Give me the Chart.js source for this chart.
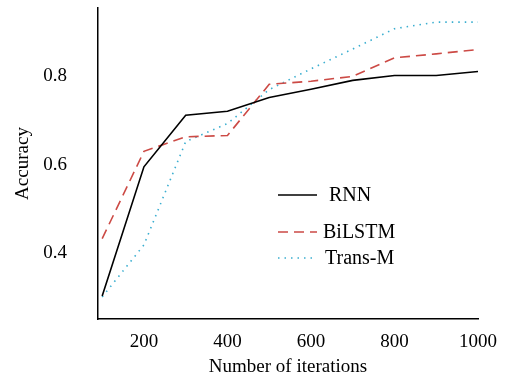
<!DOCTYPE html>
<html>
<head>
<meta charset="utf-8">
<script src="https://cdn.jsdelivr.net/npm/chart.js@4"></script>
<style>
  html, body { margin: 0; padding: 0; background: #fff; }
  #wrap { width: 519px; height: 382px; }
</style>
</head>
<body>
<div id="wrap"><canvas id="accuracy_canvas" width="519" height="382"></canvas></div>
<script>
const iterations = [100, 200, 300, 400, 500, 600, 700, 800, 900, 1000];
const rnn_accuracy = [0.302, 0.595, 0.712, 0.721, 0.752, 0.771, 0.791, 0.802, 0.802, 0.811];
const bilstm_accuracy = [0.432, 0.630, 0.663, 0.666, 0.782, 0.789, 0.800, 0.842, 0.851, 0.861];
const transm_accuracy = [0.300, 0.418, 0.652, 0.693, 0.770, 0.817, 0.862, 0.908, 0.923, 0.923];
const x_ticks = [200, 400, 600, 800, 1000];
const y_ticks = [0.4, 0.6, 0.8];

const serif = "'Liberation Serif', 'Times New Roman', serif";

// legend drawn inside the plot area, like the original figure
const inside_legend = {
    id: 'inside_legend',
    afterDraw(chart) {
        const ctx = chart.ctx;
        const rows = [
            {x0: 278, x1: 317, y: 195, tx: 329},
            {x0: 278, x1: 317, y: 232, tx: 323},
            {x0: 278, x1: 317, y: 258, tx: 325}
        ];
        chart.data.datasets.forEach(function (ds, i) {
            const r = rows[i];
            ctx.save();
            ctx.strokeStyle = ds.borderColor;
            ctx.lineWidth = ds.borderWidth;
            ctx.setLineDash(ds.borderDash || []);
            ctx.beginPath();
            ctx.moveTo(r.x0, r.y);
            ctx.lineTo(r.x1, r.y);
            ctx.stroke();
            ctx.setLineDash([]);
            ctx.fillStyle = '#000';
            ctx.font = '20px ' + serif;
            ctx.textBaseline = 'middle';
            ctx.fillText(ds.label, r.tx, r.y + 1);
            ctx.restore();
        });
    }
};

const config = {
    type: 'line',
    data: {
        datasets: [
            {
                label: 'RNN',
                data: iterations.map((x, i) => ({x: x, y: rnn_accuracy[i]})),
                borderColor: '#000000',
                borderWidth: 1.6,
                pointRadius: 0,
                tension: 0
            },
            {
                label: 'BiLSTM',
                data: iterations.map((x, i) => ({x: x, y: bilstm_accuracy[i]})),
                borderColor: '#cc4a45',
                borderWidth: 1.6,
                borderDash: [10, 6],
                pointRadius: 0,
                tension: 0
            },
            {
                label: 'Trans-M',
                data: iterations.map((x, i) => ({x: x, y: transm_accuracy[i]})),
                borderColor: '#3aaed0',
                borderWidth: 1.6,
                borderDash: [1.5, 5],
                pointRadius: 0,
                tension: 0
            }
        ]
    },
    options: {
        responsive: false,
        animation: false,
        layout: {padding: {top: 8, right: 41, left: 0, bottom: 0}},
        plugins: {
            legend: {display: false},
            tooltip: {enabled: false}
        },
        scales: {
            x: {
                type: 'linear',
                min: 90,
                max: 1000,
                afterBuildTicks: function (axis) {
                    axis.ticks = x_ticks.map(v => ({value: v}));
                },
                afterFit: function (axis) {
                    axis.height = 63;
                    axis.paddingLeft = 0;
                    axis.paddingRight = 0;
                },
                grid: {display: false, drawTicks: true, tickLength: 6, tickColor: '#000'},
                border: {display: true, color: '#000', width: 1.5},
                ticks: {color: '#000', font: {family: serif, size: 19}, padding: 6, maxRotation: 0,
                    callback: v => String(v)},
                title: {display: true, text: 'Number of iterations', color: '#000', font: {family: serif, size: 19}, padding: {top: 0}}
            },
            y: {
                min: 0.25,
                max: 0.955,
                afterBuildTicks: function (axis) {
                    axis.ticks = y_ticks.map(v => ({value: v}));
                },
                afterFit: function (axis) {
                    axis.width = 98;
                    axis.paddingTop = 0;
                    axis.paddingBottom = 0;
                },
                grid: {display: false, drawTicks: true, tickLength: 6, tickColor: '#000'},
                border: {display: true, color: '#000', width: 1.5},
                ticks: {color: '#000', font: {family: serif, size: 19}, padding: 25,
                    callback: v => v.toFixed(1)},
                title: {display: true, text: 'Accuracy', color: '#000', font: {family: serif, size: 19}, padding: {top: 12, bottom: 0}}
            }
        }
    },
    plugins: [inside_legend]
};

new Chart(document.getElementById('accuracy_canvas'), config);
</script>
</body>
</html>
